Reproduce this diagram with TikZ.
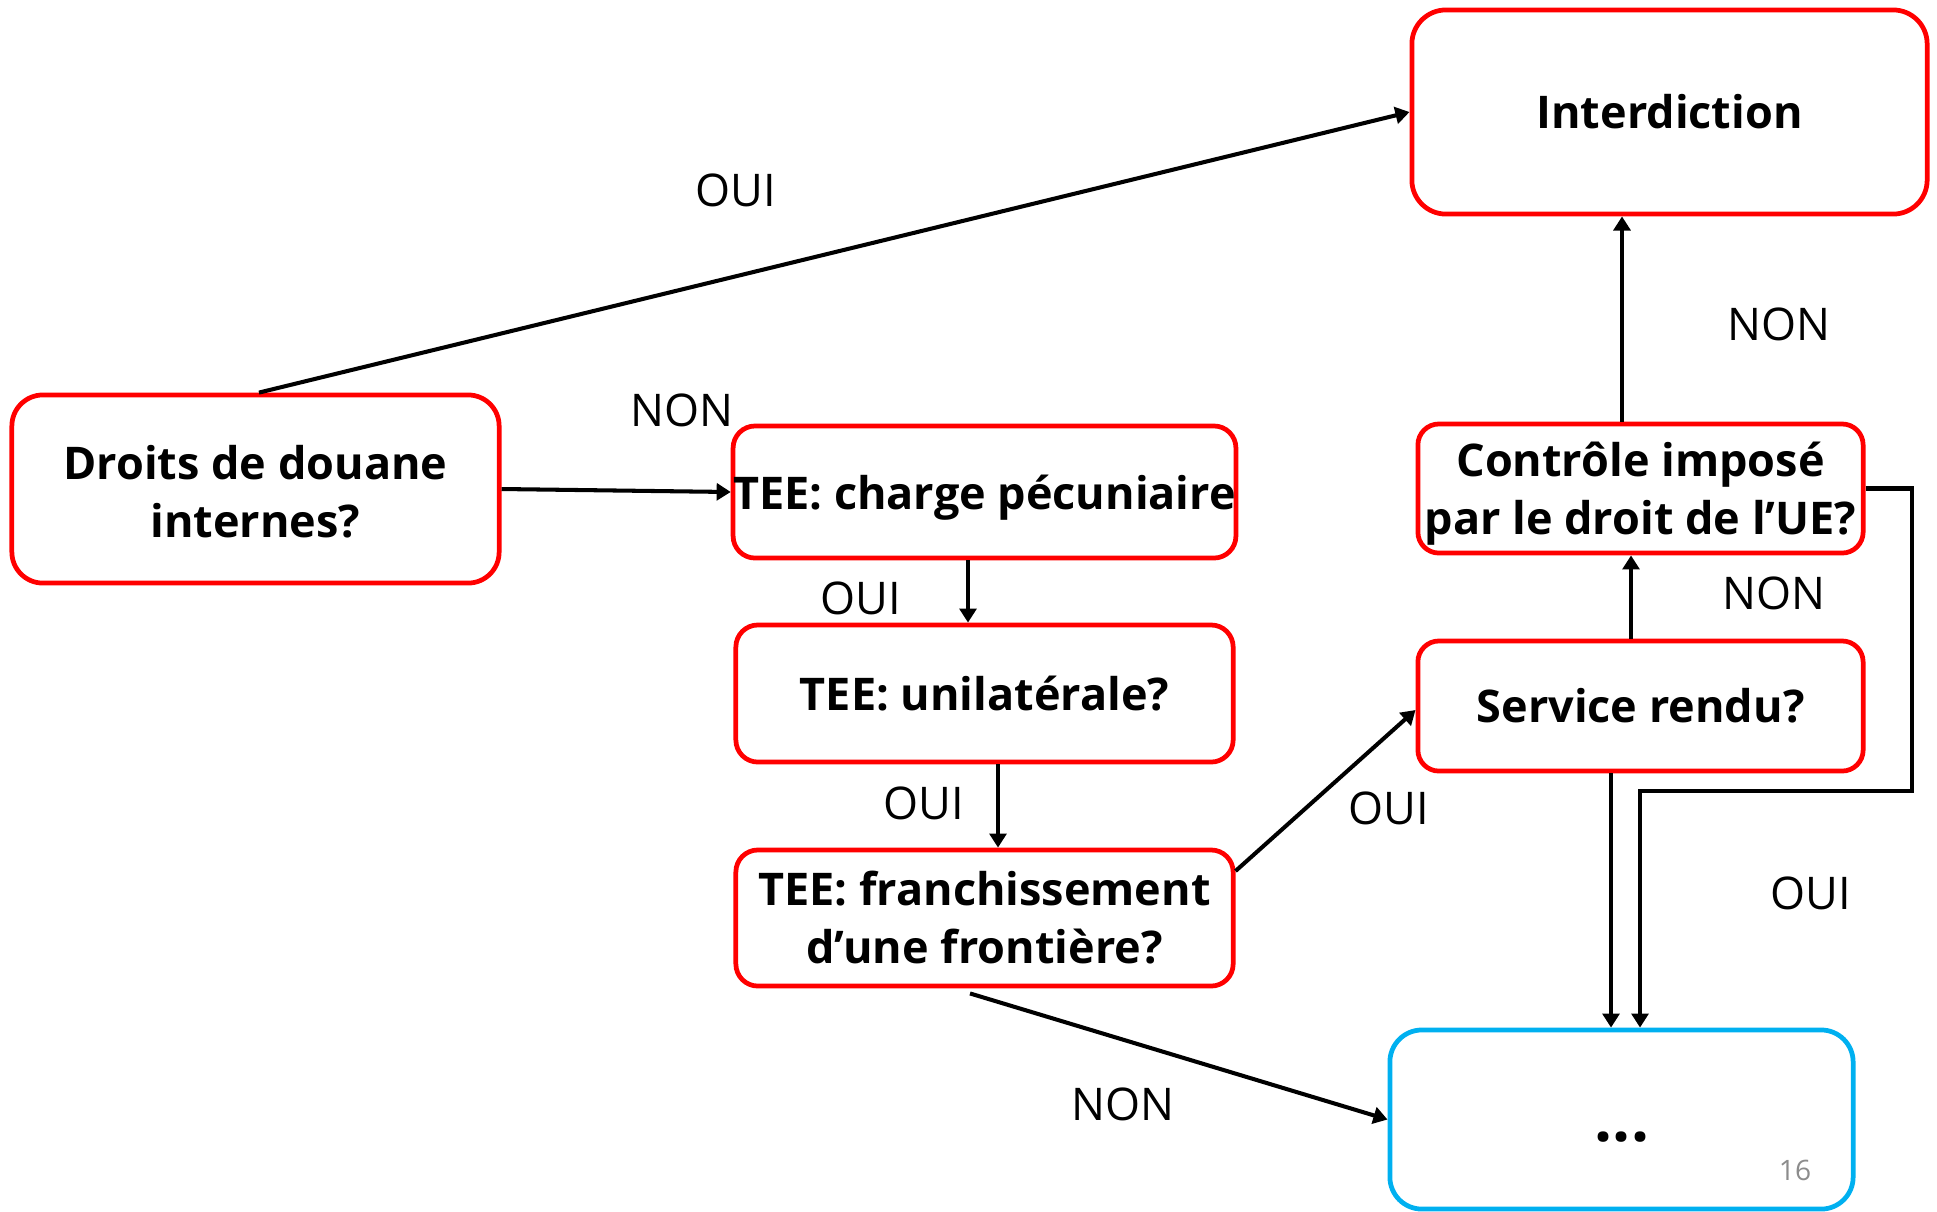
\documentclass[tikz,border=0pt]{standalone}
\usepackage{fontspec}
\setmainfont{Open Sans}
\usetikzlibrary{arrows.meta,calc}
\definecolor{boxred}{RGB}{255,0,0}
\definecolor{boxblue}{RGB}{0,176,240}
\definecolor{pagegray}{RGB}{140,140,140}
\tikzset{
  qbox/.style={draw=boxred, line width=1.35pt, inner sep=0pt, align=center,
    font=\fontsize{12.8}{16.5}\selectfont\bfseries},
  endbox/.style={draw=boxblue, line width=1.35pt, inner sep=0pt},
  lbl/.style={inner sep=0pt, font=\fontsize{12.8}{15}\selectfont},
  conn/.style={line width=1.15pt, -{Triangle[length=4pt,width=4.8pt]}},
}
% a line whose descenders do not count when the text is centred
\newcommand{\nodepth}[1]{\raisebox{0pt}[\height][0pt]{#1}}
\begin{document}
\begin{tikzpicture}[x=0.01cm, y=-0.01cm]
  \useasboundingbox (0,0) rectangle (1937,1211);

  % decision and outcome boxes
  \node[qbox, rounded corners=3.1mm, minimum width=4.87cm, minimum height=1.88cm]
    (droits) at (255.5,489) {\rule{0pt}{11.2pt}Droits de douane\\internes?};
  \node[qbox, rounded corners=2.2mm, minimum width=4.97cm, minimum height=1.32cm]
    (tee1) at (984.5,492) {\nodepth{TEE: charge pécuniaire}};
  \node[qbox, rounded corners=2.2mm, minimum width=4.97cm, minimum height=1.37cm]
    (tee2) at (984.5,693.5) {TEE: unilatérale?};
  \node[qbox, rounded corners=2.2mm, minimum width=4.97cm, minimum height=1.36cm]
    (tee3) at (984.5,918) {TEE: franchissement\\d’une frontière?};
  \node[qbox, rounded corners=3.4mm, minimum width=5.15cm, minimum height=2.04cm]
    (interd) at (1669.5,112) {Interdiction};
  \node[qbox, rounded corners=2.1mm, minimum width=4.45cm, minimum height=1.29cm]
    (ctrl) at (1640.5,488.5) {Contrôle imposé\\\nodepth{par le droit de l’UE?}};
  \node[qbox, rounded corners=2.1mm, minimum width=4.45cm, minimum height=1.30cm]
    (serv) at (1640.5,706) {Service rendu?};
  \node[endbox, rounded corners=3.2mm, minimum width=4.63cm, minimum height=1.79cm]
    (suite) at (1621.5,1119.5) {};
  \node[inner sep=0pt, font=\fontsize{18}{20}\selectfont\bfseries] (dots) at (1622,1137) {...};
  \node[inner sep=0pt, text=pagegray, font=\fontsize{8}{9}\selectfont] (pnum) at (1795,1170) {16};

  % bend points of the return path from the EU-control question
  \coordinate (bendR) at (1912,791);
  \coordinate (bendL) at (1640,791);

  % connectors
  \draw[conn] ($(droits.north)+(3.5,0)$) -- (interd.west);
  \draw[conn] (droits.east) -- (tee1.west);
  \draw[conn] ($(tee1.south)+(-16.5,0)$) -- ($(tee2.north)+(-16.5,0)$);
  \draw[conn] ($(tee2.south)+(13.5,0)$) -- ($(tee3.north)+(13.5,0)$);
  \draw[conn] ($(tee3.east)+(0,-47)$) -- ($(serv.west)+(0,4)$);
  \draw[conn] ($(tee3.south)+(-14.5,5)$) -- (suite.west);
  \draw[conn] ($(serv.north)+(-9.5,0)$) -- ($(ctrl.south)+(-9.5,0)$);
  \draw[conn] ($(ctrl.north)+(-18.5,0)$) -- ($(interd.south)+(-47.5,0)$);
  \draw[conn] ($(serv.south)+(-29.5,0)$) -- ($(suite.north)+(-10.5,0)$);
  \draw[conn] (ctrl.east) -| (bendR) -- (bendL) -- (bendL |- suite.north);

  % answer labels
  \node[lbl] (l1) at (736,190) {OUI};
  \node[lbl] (l2) at (682,410) {NON};
  \node[lbl] (l3) at (861,598) {OUI};
  \node[lbl] (l4) at (924,803) {OUI};
  \node[lbl] (l5) at (1389,808) {OUI};
  \node[lbl] (l6) at (1123,1104) {NON};
  \node[lbl] (l7) at (1774,593) {NON};
  \node[lbl] (l8) at (1779,324) {NON};
  \node[lbl] (l9) at (1811,893) {OUI};
\end{tikzpicture}
\end{document}
